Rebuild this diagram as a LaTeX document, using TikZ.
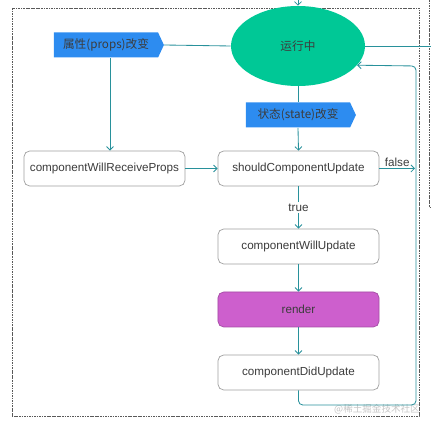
\documentclass[tikz,border=0pt]{standalone}
\usepackage{fontspec}
\setmainfont{Liberation Sans}
\newfontfamily\cjk{Noto Sans CJK SC}
\usepackage{xcolor}
\usepackage{tikz}
\usetikzlibrary{arrows.meta,shapes.geometric,shapes.symbols}
\definecolor{lnk}{RGB}{40,145,155}
\definecolor{runc}{RGB}{0,200,150}
\definecolor{tagc}{RGB}{45,140,240}
\definecolor{rndc}{RGB}{205,95,205}
\definecolor{txt}{RGB}{60,60,60}

\begin{document}
\begin{tikzpicture}[x=0.25mm,y=-0.25mm,font=\fontsize{8.3}{10}\selectfont,
  lifebox/.style={draw=gray!75,fill=white,rounded corners=4pt,minimum width=40.25mm,minimum height=8.75mm,text=txt,line width=0.5pt},
  chgtag/.style={signal,signal to=east,signal pointer angle=130,fill=tagc,minimum width=27.5mm,minimum height=6.25mm,inner sep=1pt,font=\cjk\fontsize{8.3}{10}\selectfont,text=txt},
  flow/.style={lnk,line width=0.6pt,-{Straight Barb[length=2.5pt,width=5pt]}},
  link/.style={lnk,line width=0.6pt},
  frame/.style={gray!70!black,dash pattern=on 1.2pt off 0.6pt,line width=0.6pt}]
\useasboundingbox (0,0) rectangle (431,426);
% ---- dashed frames ----
\draw[frame] (12,8) rectangle (419,416);
\draw[frame] (429,0) -- (429,207) -- (431,207);
% ---- state and change tags ----
\node[ellipse,fill=runc,minimum width=33.5mm,minimum height=20mm,inner sep=0pt,font=\cjk\fontsize{8.3}{10}\selectfont,text=txt] (run) at (298,46) {运行中};
\node[chgtag] (props) at (106,45) {属性(props)改变};
\node[chgtag] (state) at (298,115) {状态(state)改变};
% ---- lifecycle boxes ----
\node[lifebox] (recv) at (104.5,168.5) {componentWillReceiveProps};
\node[lifebox] (should) at (298.5,168.5) {shouldComponentUpdate};
\node[lifebox] (willupd) at (298.5,246.5) {componentWillUpdate};
\node[lifebox,fill=rndc,draw=rndc!80!black] (render) at (298.5,309.5) {render};
\node[lifebox] (didupd) at (298.5,372.5) {componentDidUpdate};
\node[text=gray!45,font=\cjk\fontsize{6.8}{8}\selectfont] (mark) at (377,409) {@稀土掘金技术社区};
% ---- free ends ----
\coordinate (top) at (298,-3);
\coordinate (edge) at (431,46);
\coordinate (fl) at (415,168.5);
\coordinate (rb) at (416,405);
\coordinate (rt) at (416,66);
% ---- connectors ----
\draw[flow] (top) -- (run.north);
\draw[link] (run.east) -- (edge);
\draw[link] (props.east) -- (run.west);
\draw[flow] (props.south -| 110,0) -- (recv.north -| 110,0);
\draw[link] (run.south) -- (state.north);
\draw[flow] (state.south) -- (should.north);
\draw[flow] (recv.east) -- (should.west);
\draw[flow] (should.east) -- node[above,text=txt,inner sep=1pt] (fls) {false} (fl);
\draw[flow] (should.south) -- node[fill=white,text=txt,inner sep=1pt] (tru) {true} (willupd.north);
\draw[flow] (willupd.south) -- (render.north);
\draw[flow] (render.south) -- (didupd.north);
\draw[flow,rounded corners=3pt] (didupd.south) |- (rb) -- (rt) -- (run.-18);
\end{tikzpicture}
\end{document}
